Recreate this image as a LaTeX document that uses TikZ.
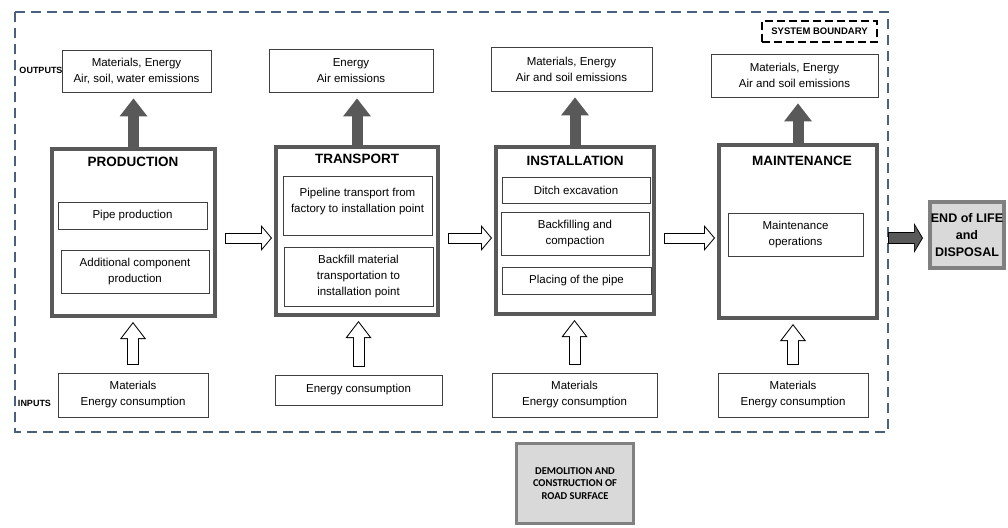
\documentclass[tikz,border=0pt]{standalone}
\usepackage{fontspec}
\setmainfont{Liberation Sans}
\newfontfamily\calibfont{Carlito}
\usetikzlibrary{arrows.meta}
\definecolor{darkgrey}{RGB}{89,89,89}
\definecolor{bordergrey}{RGB}{128,128,128}
\definecolor{lightfill}{RGB}{217,217,217}
\definecolor{boundblue}{RGB}{72,98,124}

\begin{document}
\begin{tikzpicture}[x=1pt, y=-1pt, line join=miter,
	stage/.style={draw=darkgrey, line width=4pt, fill=white, inner sep=0pt},
	sub/.style={draw=black!75, line width=0.9pt, align=center, inner sep=0pt, font=\fontsize{11.5}{16}\selectfont},
	title/.style={font=\fontsize{13.5}{17}\selectfont\bfseries},
	tag/.style={font=\fontsize{9}{11}\selectfont\bfseries},
	greybox/.style={draw=bordergrey, fill=lightfill, align=center, inner sep=0pt},
	emit/.style={darkgrey, line width=11pt, shorten >=6pt, -{Triangle[length=18pt,width=28pt,line width=0pt]}},
	passout/.style={line width=11pt, shorten <=8pt, shorten >=2pt, -{Triangle[length=11pt,width=26pt,line width=0pt]}},
	passin/.style={white, line width=9pt, shorten <=9pt, shorten >=3.3pt, -{Triangle[length=8.7pt,width=20.6pt,line width=0pt]}},
	feedout/.style={line width=12pt, shorten <=8pt, shorten >=4pt, -{Triangle[length=17pt,width=26pt,line width=0pt]}},
	feedin/.style={white, line width=10pt, shorten <=9pt, shorten >=5.65pt, -{Triangle[length=14.35pt,width=21.9pt,line width=0pt]}}]
	
	\useasboundingbox (0,0) rectangle (1008,527);
	\draw[boundblue, line width=1.5pt, dash pattern=on 10pt off 6pt] (15,12) rectangle (888,432);
	\node[draw, line width=1.5pt, dash pattern=on 8pt off 4pt, minimum width=115pt, minimum height=21pt, inner sep=0pt, font=\fontsize{9.5}{11}\selectfont\bfseries] (sysb) at (819.5,31.5) {SYSTEM BOUNDARY};
	
	\node[tag] (outputs) at (41,70) {OUTPUTS};
	\node[tag] (inputs) at (34.5,403) {INPUTS};
	
	\node[sub, minimum width=149pt, minimum height=42pt] (out1) at (136.5,71) {Materials, Energy\\Air, soil, water emissions};
	\node[sub, minimum width=164pt, minimum height=43pt] (out2) at (351,70.5) {Energy\\Air emissions};
	\node[sub, minimum width=161pt, minimum height=44pt] (out3) at (571.5,69) {Materials, Energy\\Air and soil emissions};
	\node[sub, minimum width=167pt, minimum height=43pt] (out4) at (794.5,75.5) {Materials, Energy\\Air and soil emissions};
	
	\node[stage, minimum width=163pt, minimum height=167pt] (prod) at (133.5,232.5) {};
	\node[stage, minimum width=162pt, minimum height=168pt] (trans) at (357,231) {};
	\node[stage, minimum width=158pt, minimum height=167pt] (inst) at (575,230.5) {};
	\node[stage, minimum width=158pt, minimum height=173pt] (maint) at (798,231.5) {};
	
	\node[title] (prodtitle) at (133,162) {PRODUCTION};
	\node[title] (transtitle) at (357,159) {TRANSPORT};
	\node[title] (insttitle) at (575,161) {INSTALLATION};
	\node[title] (mainttitle) at (802,161) {MAINTENANCE};
	
	\node[sub, minimum width=149pt, minimum height=27pt] (pipe) at (132.5,215.5) {Pipe production};
	\node[sub, minimum width=148pt, minimum height=43pt] (addcomp) at (135,271.5) {Additional component\\production};
	\node[sub, minimum width=149pt, minimum height=59pt] (pipetrans) at (357.5,205.5) {Pipeline transport from\\factory to installation point\\[-6pt]\mbox{}};
	\node[sub, minimum width=149pt, minimum height=59pt] (filltrans) at (358.5,276.5) {Backfill material\\transportation to\\installation point};
	\node[sub, minimum width=148pt, minimum height=26pt] (ditch) at (576,190) {Ditch excavation};
	\node[sub, minimum width=148pt, minimum height=43pt] (backfill) at (575,233.5) {Backfilling and\\compaction};
	\node[sub, minimum width=149pt, minimum height=27pt] (placing) at (576.5,280.5) {Placing of the pipe};
	\node[sub, minimum width=135pt, minimum height=43pt] (operations) at (795.5,234.5) {Maintenance\\operations};
	
	\node[sub, minimum width=150pt, minimum height=44pt] (in1) at (133,395) {Materials\\Energy consumption};
	\node[sub, minimum width=167pt, minimum height=30pt] (in2) at (358.5,390) {Energy consumption};
	\node[sub, minimum width=165pt, minimum height=44pt] (in3) at (574.5,395) {Materials\\Energy consumption};
	\node[sub, minimum width=150pt, minimum height=44pt] (in4) at (793,395) {Materials\\Energy consumption};
	
	\node[greybox, line width=4pt, minimum width=74pt, minimum height=66pt, font=\fontsize{12.5}{17}\selectfont\bfseries] (eol) at (967,235) {END of LIFE\\and\\DISPOSAL};
	\node[greybox, line width=3pt, minimum width=117pt, minimum height=80pt, font=\calibfont\fontsize{10.5}{12.5}\selectfont\bfseries] (demo) at (575,483.5) {DEMOLITION AND\\CONSTRUCTION OF\\ROAD SURFACE};
	
	\coordinate (flow) at (0,238);
	\foreach \s/\o in {prod/out1,trans/out2,inst/out3,maint/out4}
		\draw[emit] (\s.north) -- (\s.north |- \o.south);
	\foreach \i/\s in {in1/prod,in2/trans,in3/inst,in4/maint}{
		\draw[feedout] (\i.north) -- (\i.north |- \s.south);
		\draw[feedin] (\i.north) -- (\i.north |- \s.south);}
	\foreach \a/\b in {prod/trans,trans/inst,inst/maint}{
		\draw[passout] (\a.east |- flow) -- (\b.west |- flow);
		\draw[passin] (\a.east |- flow) -- (\b.west |- flow);}
	\draw[passout, line width=12pt, shorten <=9pt, shorten >=5pt, -{Triangle[length=9pt,width=30pt,line width=0pt]}] (maint.east |- flow) -- (eol.west |- flow);
	\draw[passin, darkgrey, line width=10pt, shorten <=10pt, shorten >=6.1pt, -{Triangle[length=7.3pt,width=25pt,line width=0pt]}] (maint.east |- flow) -- (eol.west |- flow);
\end{tikzpicture}
\end{document}
